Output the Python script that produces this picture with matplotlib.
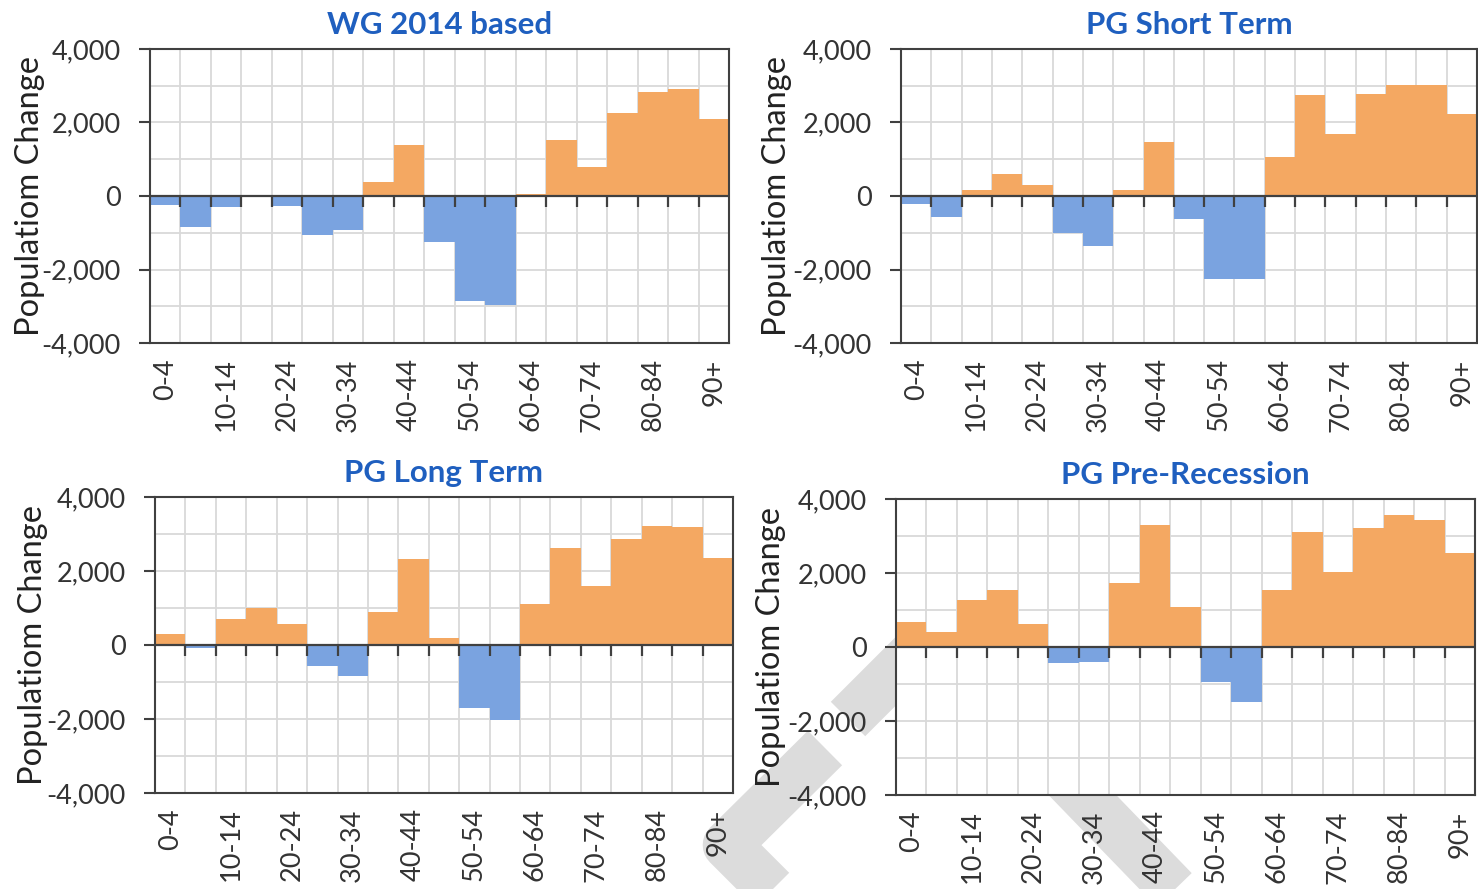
import numpy as np
import matplotlib.pyplot as plt
from matplotlib.lines import Line2D
from matplotlib.markers import TICKDOWN

plt.rcParams['font.family'] = ['Lato', 'DejaVu Sans']

age_groups = ['0-4', '5-9', '10-14', '15-19', '20-24', '25-29', '30-34', '35-39',
              '40-44', '45-49', '50-54', '55-59', '60-64', '65-69', '70-74',
              '75-79', '80-84', '85-89', '90+']

titles = ['WG 2014 based', 'PG Short Term', 'PG Long Term', 'PG Pre-Recession']

wg_2014 = [-250, -850, -300, 0, -260, -1070, -930, 380, 1380, -1250,
           -2850, -2970, 60, 1520, 790, 2270, 2830, 2920, 2100]
pg_short = [-210, -570, 150, 610, 290, -1000, -1350, 150, 1470, -620,
            -2250, -2250, 1060, 2750, 1700, 2780, 3020, 3020, 2240]
pg_long = [290, -70, 700, 1010, 560, -570, -840, 880, 2320, 200,
           -1700, -2020, 1100, 2630, 1590, 2860, 3220, 3180, 2360]
pg_pre = [680, 410, 1280, 1540, 630, -440, -400, 1730, 3300, 1090,
          -940, -1480, 1540, 3120, 2040, 3210, 3570, 3440, 2530]

y_ticks = [-4000, -2000, 0, 2000, 4000]
y_tick_labels = ['-4,000', '-2,000', '0', '2,000', '4,000']
y_label = 'Populatiom Change'

# grey watermark strokes behind the charts (pixel coords, y down)
watermark_strokes = [
    [(955, 612), (848, 719)],
    [(825, 748), (727, 845), (805, 923)],
    [(1034, 745), (1210, 927)],
]

W, H = 1478, 889
ORANGE = '#f4a862'
BLUE = '#7aa3e0'
DARK = '#404040'
GRID = '#d9d9d9'

# axes boxes in pixels: left, top, right, bottom
boxes = [(150, 49, 729, 343), (901, 49, 1477, 343),
         (155, 497, 733, 793), (896, 499, 1475, 795)]
label_x = [-0.182, -0.19, -0.185, -0.19]


def draw_panel(ax, values, title, lx):
    x = np.arange(len(age_groups))
    colors = [BLUE if v < 0 else ORANGE for v in values]
    ax.bar(x, values, width=1.0, color=colors, linewidth=0, zorder=2)
    ax.set_xlim(-0.5, len(age_groups) - 0.5)
    ax.set_ylim(-4000, 4000)

    ax.set_xticks(x[::2])
    ax.set_xticklabels(age_groups[::2], rotation=90, fontsize=19.5, color='#333333')
    ax.set_xticks(x[:-1] + 0.5, minor=True)
    ax.tick_params(axis='x', which='both', length=0, pad=11)

    ax.set_yticks(y_ticks)
    ax.set_yticklabels(y_tick_labels, fontsize=19.5, color='#333333')
    ax.set_yticks(np.arange(-3000, 4000, 2000), minor=True)
    ax.tick_params(axis='y', which='major', length=8, width=1.5, color=DARK, pad=13)
    ax.tick_params(axis='y', which='minor', length=0)

    ax.grid(True, axis='x', which='minor', color=GRID, linewidth=1.3)
    ax.grid(True, axis='y', which='both', color=GRID, linewidth=1.3)
    ax.set_axisbelow(True)
    for s in ax.spines.values():
        s.set_color(DARK)
        s.set_linewidth(1.5)

    ax.axhline(0, color=DARK, linewidth=1.6, zorder=3)
    ax.plot(x[:-1] + 0.5, np.zeros(len(x) - 1), linestyle='none',
            marker=TICKDOWN, markersize=8, markeredgewidth=1.6,
            color=DARK, zorder=3, clip_on=False)

    ax.set_title(title, fontsize=22.5, fontweight='bold', color='#1f5fbf', pad=11)
    ax.set_ylabel(y_label, fontsize=23.5, color='#222222')
    ax.yaxis.set_label_coords(lx, 0.5)


fig = plt.figure(figsize=(W / 100, H / 100), dpi=100)

for pts in watermark_strokes:
    xs = [p[0] / W for p in pts]
    ys = [1 - p[1] / H for p in pts]
    fig.add_artist(Line2D(xs, ys, transform=fig.transFigure, color='#dcdcdc',
                          linewidth=35, solid_capstyle='butt',
                          solid_joinstyle='round', zorder=-1))

series = [wg_2014, pg_short, pg_long, pg_pre]
for i, (vals, title) in enumerate(zip(series, titles)):
    l, t, r, b = boxes[i]
    ax = fig.add_axes([l / W, 1 - b / H, (r - l) / W, (b - t) / H])
    draw_panel(ax, vals, title, label_x[i])

fig.savefig('out.png', dpi=100)
